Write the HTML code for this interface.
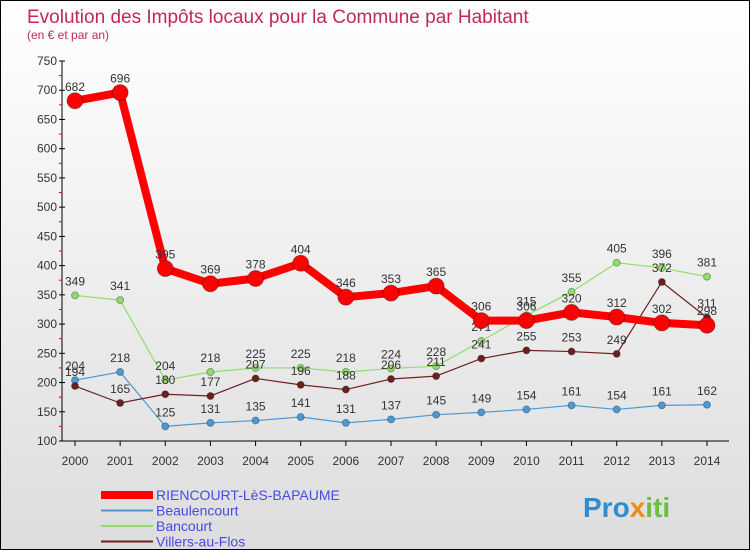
<!DOCTYPE html>
<html><head><meta charset="utf-8"><style>
body{margin:0}
#c{width:748px;height:548px;border:1px solid #000;background:linear-gradient(#fff,#ddd);position:relative;font-family:"Liberation Sans","DejaVu Sans",sans-serif;overflow:hidden}
</style></head><body>
<div id="c">
<svg id="s" width="748" height="548" xmlns="http://www.w3.org/2000/svg">
<text x="26" y="22" font-size="19" fill="#c0285a">Evolution des Impôts locaux pour la Commune par Habitant</text>
<text x="26" y="38" font-size="12" fill="#c0285a">(en € et par an)</text>
<g id="axes"></g><g id="series"></g><g id="legend"></g>
<text x="582" y="516" font-size="28" font-weight="bold"><tspan fill="#2a8fd0">Pro</tspan><tspan fill="#f08a1a">x</tspan><tspan fill="#6cc040">iti</tspan></text>
</svg>
</div>
<script>
const years=[2000,2001,2002,2003,2004,2005,2006,2007,2008,2009,2010,2011,2012,2013,2014];
const riencourt=[682,696,395,369,378,404,346,353,365,306,306,320,312,302,298];
const beaulencourt=[204,218,125,131,135,141,131,137,145,149,154,161,154,161,162];
const bancourt=[349,341,204,218,225,225,218,224,228,271,315,355,405,396,381];
const villers=[194,165,180,177,207,196,188,206,211,241,255,253,249,372,311];
const yTicks=[100,150,200,250,300,350,400,450,500,550,600,650,700,750];
const NS="http://www.w3.org/2000/svg";
function X(i){return 74+i*(632/14);}
function Y(v){return 440-(v-100)*380/650;}
function mk(t,a,p){const e=document.createElementNS(NS,t);for(const k in a)e.setAttribute(k,a[k]);p.appendChild(e);return e;}
const ax=document.getElementById('axes');
const yl=mk('line',{x1:61,y1:60,x2:61,y2:440,stroke:'#000'},ax);


const xl=mk('line',{x1:61,y1:440,x2:728,y2:440,stroke:'#000'},ax);


yTicks.forEach((v,k)=>{
 mk('line',{x1:58,y1:Y(v),x2:64,y2:Y(v),stroke:'#000'},ax);
 if(k<yTicks.length-1)mk('line',{x1:58,y1:Y(v+25),x2:61,y2:Y(v+25),stroke:'#e00'},ax);
 const t=mk('text',{x:56,y:Y(v)+4,'font-size':12,'text-anchor':'end',fill:'#333'},ax);t.textContent=v;
 
 
});
years.forEach((y,i)=>{
 mk('line',{x1:X(i),y1:440,x2:X(i),y2:445,stroke:'#000'},ax);
 const t=mk('text',{x:X(i),y:464,'font-size':12,'text-anchor':'middle',fill:'#333'},ax);t.textContent=y;
 
 
});
const sg=document.getElementById('series');
function draw(vals,color,w,r,name){
 const g=mk('g',{},sg);
 
 
 mk('polyline',{points:vals.map((v,i)=>X(i)+','+Y(v)).join(' '),fill:'none',stroke:color,'stroke-width':w,'stroke-linejoin':'round'},g);
 vals.forEach((v,i)=>{
  const c=mk('circle',{cx:X(i),cy:Y(v),r:r,fill:color,stroke:'rgba(0,0,0,0.3)'},g);
  
  
  const t=mk('text',{x:X(i),y:Y(v)-10,'font-size':12,'text-anchor':'middle',fill:'#333'},g);t.textContent=v;
  
  
 });
}
draw(beaulencourt,'#4a9ad4',1.2,3.5,'beaulencourt');
draw(bancourt,'#8fde6a',1.2,3.5,'bancourt');
draw(villers,'#6e2020',1.2,3.5,'villers-au-flos');
draw(riencourt,'#ff0000',8,8,'riencourt');
const lg=document.getElementById('legend');
[['RIENCOURT-LèS-BAPAUME','#ff0000',8],['Beaulencourt','#4a9ad4',2],['Bancourt','#8fde6a',2],['Villers-au-Flos','#6e2020',2]].forEach((d,k)=>{
 const y=494+k*15.5;
 const g=mk('g',{},lg);
 
 
 mk('line',{x1:100,y1:y,x2:152,y2:y,stroke:d[1],'stroke-width':d[2]},g);
 const t=mk('text',{x:155,y:y+5,'font-size':14,fill:'#4a4ae0'},g);t.textContent=d[0];
});
</script>
</body></html>
